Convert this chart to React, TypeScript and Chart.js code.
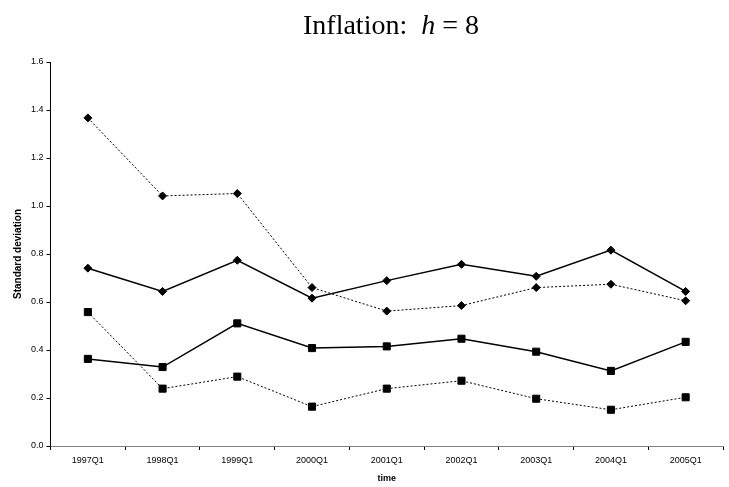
import React, { useEffect, useRef } from "react";
import { Chart, registerables } from "chart.js";

Chart.register(...registerables);

const categories = ["1997Q1", "1998Q1", "1999Q1", "2000Q1", "2001Q1", "2002Q1", "2003Q1", "2004Q1", "2005Q1"];
const solidDiamond = [0.741, 0.644, 0.774, 0.616, 0.689, 0.757, 0.707, 0.816, 0.644];
const dottedDiamond = [1.367, 1.042, 1.052, 0.66, 0.562, 0.585, 0.66, 0.674, 0.605];
const solidSquare = [0.363, 0.329, 0.511, 0.408, 0.415, 0.447, 0.393, 0.313, 0.434];
const dottedSquare = [0.558, 0.239, 0.289, 0.164, 0.239, 0.272, 0.197, 0.151, 0.203];
const yMin = 0;
const yMax = 1.6;
const yStep = 0.2;

export default function App() {
  const ref = useRef<HTMLCanvasElement | null>(null);

  useEffect(() => {
    if (!ref.current) return;
    const font = { family: "'Liberation Sans', Arial, sans-serif", size: 9 };
    const mk = (data: number[], dotted: boolean, style: string, radius: number) => ({
      data,
      borderColor: "#000",
      backgroundColor: "#000",
      borderWidth: dotted ? 1 : 1.5,
      borderDash: dotted ? [2, 2] : [],
      pointStyle: style,
      pointRadius: radius,
      pointBackgroundColor: "#000",
      pointBorderColor: "#000",
      pointBorderWidth: 1,
      tension: 0,
    });
    const chart = new Chart(ref.current, {
      type: "line",
      data: {
        labels: categories,
        datasets: [
          mk(dottedDiamond, true, "rectRot", 4),
          mk(solidDiamond, false, "rectRot", 4),
          mk(dottedSquare, true, "rect", 5),
          mk(solidSquare, false, "rect", 5),
        ] as any,
      },
      options: {
        animation: false,
        responsive: false,
        devicePixelRatio: 1,
        layout: { padding: { top: 62, right: 0, left: 0, bottom: 0 } },
        plugins: { legend: { display: false }, tooltip: { enabled: false }, title: { display: false } },
        scales: {
          x: {
            type: "category",
            offset: true,
            afterFit: (s: any) => { s.height = 41; },
            border: { display: true, color: "#808080", width: 1 },
            grid: { display: true, offset: true, drawOnChartArea: false, drawTicks: true, tickLength: 4, tickColor: "#000" },
            ticks: { color: "#000", font, padding: 5, maxRotation: 0, autoSkip: false },
            title: { display: true, text: "time", color: "#000", font: { ...font, weight: "bold" }, padding: { top: 0, bottom: 3 } },
          },
          y: {
            min: yMin,
            max: yMax,
            afterFit: (s: any) => { s.width = 50.5; },
            border: { display: true, color: "#000", width: 1 },
            grid: { display: true, drawOnChartArea: false, drawTicks: true, tickLength: 4, tickColor: "#000" },
            ticks: { stepSize: yStep, color: "#000", font, padding: 3, callback: (v: any) => Number(v).toFixed(1) },
            title: { display: true, text: "Standard deviation", color: "#000", font: { ...font, size: 10, weight: "bold" }, padding: { top: 12, bottom: 0 } },
          },
        },
      } as any,
    });
    return () => chart.destroy();
  }, []);

  return (
    <div style={{ position: "fixed", left: 0, top: 0, width: 729, height: 487, background: "#fff" }}>
      <canvas ref={ref} width={729} height={487} style={{ position: "absolute", left: 0, top: 0 }} />
      <div
        style={{
          position: "absolute",
          left: 303,
          top: 11,
          fontFamily: "'Liberation Serif', 'Times New Roman', serif",
          fontSize: 28,
          lineHeight: "28px",
          color: "#000",
          whiteSpace: "pre",
        }}
      >
        {"Inflation:  "}
        <i>h</i>
        {" = 8"}
      </div>
    </div>
  );
}
